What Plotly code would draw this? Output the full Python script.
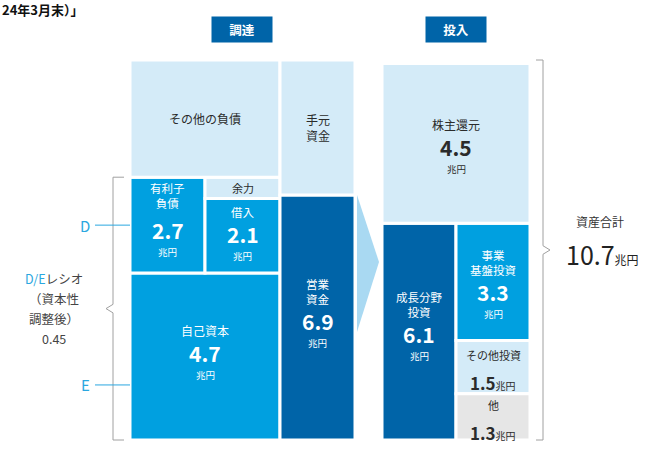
import plotly.graph_objects as go

# ---- data (兆円) ----
total_assets = 10.7
equity = 4.7            # E
debt = 2.7              # D
borrow_capacity = 2.1
operating_funds = 6.9
shareholder_return = 4.5
growth_invest = 6.1
breakdown_labels = ["事業<br>基盤投資", "その他投資", "他"]
breakdown_values = [3.3, 1.5, 1.3]
de_ratio = 0.45

# ---- layout constants ----
W, H = 663, 452
BOTTOM_PX, TOP_PX = 440, 60
scale = (BOTTOM_PX - TOP_PX) / total_assets
FONT = "Noto Sans CJK JP"

LIGHT = "#d4ebf8"
MID = "#00a0e0"
DARK = "#0064a8"
GRAY = "#e6e6e6"
BLUE_TXT = "#2aa7e0"
TXT = "#2b2b2b"


def v(px):
    # pixel row -> axis value (decorations only)
    return (BOTTOM_PX - px) / scale


# column centre / width on a pixel-like x axis
cols = {
    "A": (167.5, 75), "B": (242.5, 75), "AB": (205, 150), "C": (317.5, 75),
    "D": (419, 74), "E": (493, 74), "DE": (456, 148),
}

fig = go.Figure()
ann = []


def cell(col, base, height, fill):
    xc, w = cols[col]
    fig.add_trace(go.Bar(x=[xc], y=[height], base=[base], width=[w],
                         marker=dict(color=fill, line=dict(color="white", width=3)),
                         hoverinfo="skip", showlegend=False))
    return xc, base + height / 2


def label(xc, yc, text, color, size=12, shift=0, anchor="middle"):
    ann.append(dict(x=xc, y=yc, text=text, yanchor=anchor, yshift=shift,
                    font=dict(size=size, color=color), showarrow=False))


def value_block(xc, yc, lab, val, color, shift=0, lab_size=11.5, gap=12):
    if lab:
        label(xc, yc, lab, color, size=lab_size, shift=shift + gap, anchor="bottom")
    label(xc, yc, f"<b>{val}</b>", color, size=21, shift=shift)
    label(xc, yc, "兆円", color, size=9.5, shift=shift - 13, anchor="top")


# ---- funding side (調達) ----
xc, yc = cell("AB", 0, equity, MID)
value_block(xc, yc, "自己資本", equity, "white", shift=4, lab_size=12)
e_center = yc
xc, yc = cell("A", equity, debt, MID)
value_block(xc, yc, "有利子<br>負債", debt, "white", shift=-5, gap=17)
d_center = yc
xc, yc = cell("B", equity, borrow_capacity, MID)
value_block(xc, yc, "借入", borrow_capacity, "white", shift=2)
xc, yc = cell("B", equity + borrow_capacity, debt - borrow_capacity, LIGHT)
label(xc, yc, "余力", TXT, size=11)
other_liab = total_assets - equity - debt
xc, yc = cell("AB", equity + debt, other_liab, LIGHT)
label(xc, yc, "その他の負債", TXT)
xc, yc = cell("C", 0, operating_funds, DARK)
value_block(xc, yc, "営業<br>資金", operating_funds, "white", shift=-4)
xc, yc = cell("C", operating_funds, total_assets - operating_funds, LIGHT)
label(xc, yc, "手元<br>資金", TXT)

# ---- investment side (投入) ----
xc, yc = cell("D", 0, growth_invest, DARK)
value_block(xc, yc, "成長分野<br>投資", growth_invest, "white", shift=-2)
base = growth_invest
fills = [MID, LIGHT, GRAY]
for lab, val, fill in zip(breakdown_labels, breakdown_values, fills):
    base -= val
    xc, yc = cell("E", base, val, fill)
    if fill == MID:
        value_block(xc, yc, lab, val, "white", shift=-10)
    else:
        label(xc, yc, lab, TXT, size=11, shift=2, anchor="bottom")
        label(xc, yc, f"<b>{val}</b><span style='font-size:10px'>兆円</span>",
              TXT, size=17, shift=-1, anchor="top")
xc, yc = cell("DE", growth_invest, shareholder_return, LIGHT)
value_block(xc, yc, "株主還元", shareholder_return, TXT, shift=-4, lab_size=12)

# ---- headers ----
for x, t in [(242, "調達"), (456, "投入")]:
    ann.append(dict(x=x, y=v(29.5), text=f"<b>{t}</b>", showarrow=False,
                    bgcolor=DARK, width=58, height=23,
                    font=dict(size=12.5, color="white")))

# title fragment at the top edge
ann.append(dict(x=0, y=1, xref="paper", yref="paper", xanchor="left",
                yanchor="top", yshift=2, showarrow=False,
                text="<b>24年3月末）」</b>", font=dict(size=13, color="#111")))

# ---- D/E bracket (left) ----
de_top = equity + debt
de_mid = de_top / 2
shapes = [
    dict(type="path", path=(f"M 124 {de_top} L 113 {de_top} L 113 {de_mid + 0.12} "
                            f"L 106 {de_mid} L 113 {de_mid - 0.12} L 113 0 L 124 0"),
         line=dict(color="#a0a0a0", width=1)),
    dict(type="line", x0=95, x1=130, y0=d_center, y1=d_center,
         line=dict(color=BLUE_TXT, width=1)),
    dict(type="line", x0=95, x1=130, y0=e_center - 0.8, y1=e_center - 0.8,
         line=dict(color=BLUE_TXT, width=1)),
]
label(85, d_center, "D", BLUE_TXT, size=15)
label(85, e_center - 0.8, "E", BLUE_TXT, size=15)
de_lines = [f"<span style='color:{BLUE_TXT}'>D/E</span>レシオ", "（資本性", "調整後）", f"{de_ratio}"]
for i, t in enumerate(de_lines):
    label(54, v(278 + 20 * i), t, "#444", size=12.5)

# ---- total bracket (right) ----
mid = total_assets / 2
shapes.append(dict(type="path",
                   path=(f"M 536 {total_assets} L 543 {total_assets} L 543 {mid + 0.12} "
                         f"L 550 {mid} L 543 {mid - 0.12} L 543 0 L 536 0"),
                   line=dict(color="#a0a0a0", width=1)))
label(600, mid + 0.8, "資産合計", "#333", size=12)
label(602, mid - 0.1, f"{total_assets}<span style='font-size:12px'>兆円</span>", "#222", size=25)

# ---- arrow between funding and investment ----
shapes.append(dict(type="path",
                   path=f"M 357 {operating_funds} L 379 {v(262)} L 357 {v(332)} Z",
                   fillcolor="#a9d9f2", line=dict(width=0)))

fig.update_layout(
    width=W, height=H,
    margin=dict(l=0, r=0, t=0, b=0),
    barmode="overlay",
    paper_bgcolor="white", plot_bgcolor="white",
    font=dict(family=FONT),
    xaxis=dict(range=[0, W], visible=False, fixedrange=True),
    yaxis=dict(range=[-(H - BOTTOM_PX) / scale, total_assets + TOP_PX / scale],
               visible=False, fixedrange=True),
    annotations=ann,
    shapes=shapes,
)

# drop the default page margin so the figure sits at the window corner
fig.write_html("out.html", config={"displayModeBar": False},
               post_script="document.body.style.margin='0';")
